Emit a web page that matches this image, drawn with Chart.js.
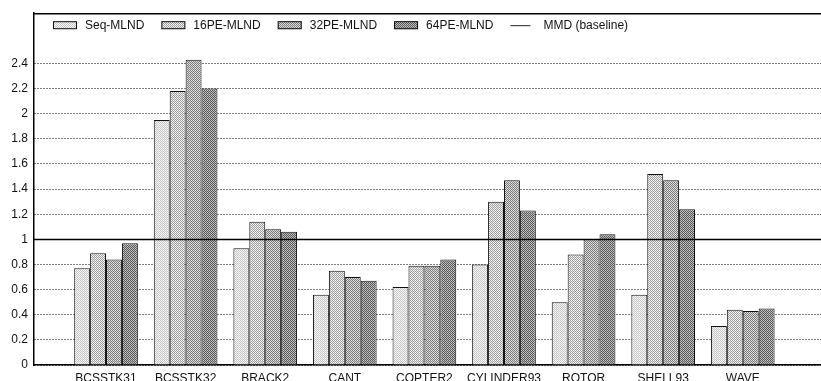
<!DOCTYPE html>
<html>
<head>
<meta charset="utf-8">
<script src="https://cdn.jsdelivr.net/npm/chart.js@4/dist/chart.umd.min.js"></script>
<style>
  html, body { margin: 0; padding: 0; background: #fff; }
  #wrap { width: 821px; height: 381px; }
</style>
</head>
<body>
<div id="wrap"><canvas id="c" width="821" height="381"></canvas></div>
<script>
// Ordering time relative to MMD, per matrix
const categories = ['BCSSTK31', 'BCSSTK32', 'BRACK2', 'CANT', 'COPTER2', 'CYLINDER93', 'ROTOR', 'SHELL93', 'WAVE'];
const seqMLND  = [0.77, 1.95, 0.93, 0.56, 0.62, 0.80, 0.50, 0.56, 0.31];
const pe16MLND = [0.89, 2.18, 1.14, 0.75, 0.79, 1.30, 0.88, 1.52, 0.44];
const pe32MLND = [0.84, 2.43, 1.08, 0.70, 0.79, 1.47, 1.00, 1.47, 0.43];
const pe64MLND = [0.97, 2.20, 1.06, 0.67, 0.84, 1.23, 1.04, 1.24, 0.45];
const mmdBaseline = 1;
const seriesNames = ['Seq-MLND', '16PE-MLND', '32PE-MLND', '64PE-MLND'];
const baselineName = 'MMD (baseline)';
const yTickValues = [0, 0.2, 0.4, 0.6, 0.8, 1, 1.2, 1.4, 1.6, 1.8, 2, 2.2, 2.4];

const FONT = '"Liberation Sans", Arial, Helvetica, sans-serif';

// Stippled fills, lighter to darker
function stipple(dark, light, base) {
  const t = document.createElement('canvas');
  t.width = 2; t.height = 2;
  const g = t.getContext('2d');
  g.fillStyle = base; g.fillRect(0, 0, 2, 2);
  g.fillStyle = dark; g.fillRect(0, 0, 1, 1); g.fillRect(1, 1, 1, 1);
  g.fillStyle = light; g.fillRect(1, 0, 1, 1);
  return g.createPattern(t, 'repeat');
}
const fills = [
  stipple('#c4c4c4', '#ffffff', '#f4f4f4'),
  stipple('#9c9c9c', '#ffffff', '#ececec'),
  stipple('#7c7c7c', '#e2e2e2', '#d4d4d4'),
  stipple('#5a5a5a', '#c6c6c6', '#b2b2b2')
];

const seriesValues = [seqMLND, pe16MLND, pe32MLND, pe64MLND];
const datasets = seriesValues.map((vals, k) => ({
  label: seriesNames[k],
  data: vals.map((v, i) => ({ x: i, y: v })),
  backgroundColor: fills[k],
  borderColor: '#111',
  borderWidth: 1,
  categoryPercentage: 0.8,
  barPercentage: 1.0
}));

// Baseline reference line across the whole plot
const baselinePlugin = {
  id: 'baseline',
  afterDatasetsDraw(chart) {
    const { ctx, chartArea, scales } = chart;
    const y = Math.round(scales.y.getPixelForValue(mmdBaseline)) + 0.5;
    ctx.save();
    ctx.strokeStyle = '#000';
    ctx.lineWidth = 1.5;
    ctx.beginPath();
    ctx.moveTo(chartArea.left, y);
    ctx.lineTo(chartArea.right, y);
    ctx.stroke();
    ctx.restore();
  }
};

// Top frame line and the in-plot key
const framePlugin = {
  id: 'frameAndKey',
  afterDraw(chart) {
    const { ctx, chartArea } = chart;
    ctx.save();
    ctx.strokeStyle = '#000';
    ctx.lineWidth = 1.5;
    ctx.beginPath();
    ctx.moveTo(chartArea.left, chartArea.top + 0.5);
    ctx.lineTo(chartArea.right, chartArea.top + 0.5);
    ctx.stroke();

    ctx.font = '12px ' + FONT;
    ctx.textBaseline = 'middle';
    ctx.fillStyle = '#111';
    const cy = chartArea.top + 12;
    let x = chartArea.left + 19;
    for (let k = 0; k < seriesNames.length; k++) {
      ctx.fillStyle = fills[k];
      ctx.fillRect(x, cy - 4, 24, 8);
      ctx.lineWidth = 1;
      ctx.strokeStyle = '#111';
      ctx.strokeRect(x + 0.5, cy - 3.5, 23, 7);
      ctx.fillStyle = '#111';
      const tx = x + 32;
      ctx.fillText(seriesNames[k], tx, cy + 0.5);
      x = tx + ctx.measureText(seriesNames[k]).width + 17;
    }
    ctx.strokeStyle = '#222';
    ctx.lineWidth = 1;
    ctx.beginPath();
    ctx.moveTo(x, cy + 0.5);
    ctx.lineTo(x + 20, cy + 0.5);
    ctx.stroke();
    ctx.fillText(baselineName, x + 33, cy + 0.5);
    ctx.restore();
  }
};

new Chart(document.getElementById('c'), {
  type: 'bar',
  data: { datasets },
  options: {
    responsive: false,
    animation: false,
    devicePixelRatio: 1,
    layout: { padding: { top: 12, right: 0, left: 0, bottom: 0 } },
    plugins: { legend: { display: false }, tooltip: { enabled: false } },
    scales: {
      x: {
        type: 'linear',
        min: -0.905,
        max: 8.983,
        offset: false,
        grid: { display: false },
        border: { display: true, color: '#000', width: 1.5 },
        afterBuildTicks(axis) { axis.ticks = categories.map((c, i) => ({ value: i })); },
        afterFit(axis) { axis.height = 16; },
        ticks: {
          autoSkip: false,
          maxRotation: 0,
          padding: -2,
          color: '#111',
          font: { family: FONT, size: 12 },
          callback: (v) => categories[v] ?? ''
        }
      },
      y: {
        min: 0,
        max: 2.8,
        grid: { display: true, drawTicks: false, color: '#000', lineWidth: 1 },
        border: { display: true, color: '#000', width: 1.5, dash: [1, 2] },
        afterBuildTicks(axis) { axis.ticks = yTickValues.map(v => ({ value: v })); },
        afterFit(axis) { axis.width = 34; },
        ticks: {
          padding: 6,
          color: '#111',
          font: { family: FONT, size: 12 },
          callback: (v) => String(Math.round(v * 10) / 10)
        }
      }
    }
  },
  plugins: [baselinePlugin, framePlugin]
});
</script>
</body>
</html>
